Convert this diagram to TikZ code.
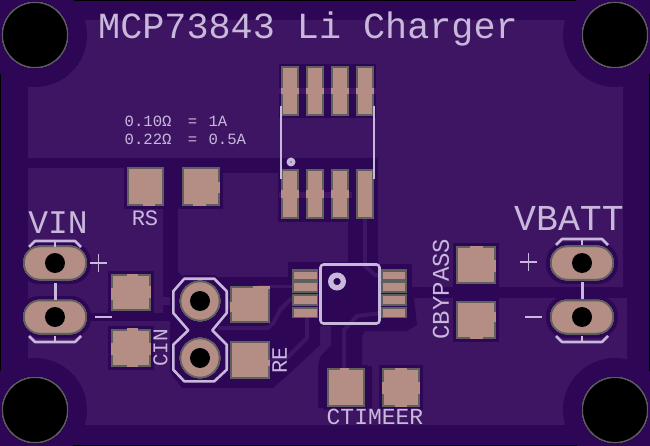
\documentclass[tikz,border=0pt]{standalone}
\usepackage{fontspec}
\setmainfont{Liberation Mono}
\definecolor{boardc}{HTML}{2E0656}
\definecolor{pour}{HTML}{3E1562}
\definecolor{silk}{HTML}{C8B8DC}
\definecolor{padc}{HTML}{B48D85}
\definecolor{edge}{HTML}{5F5F5F}
\tikzset{
  clear/.style={fill=boardc,draw=none},
  pourf/.style={fill=pour,draw=none},
  padf/.style={fill=padc,draw=edge,line width=1.5pt},
  gapf/.style={fill=padc,draw=none},
  tracel/.style={draw=pour,line width=4pt,line join=round},
  silkl/.style={draw=silk,line width=2.6pt,line join=round},
  silktext/.style={text=silk,inner sep=0pt,anchor=center},
}
\newcommand{\padbox}[4]{\draw[padf] (#1,#2) rectangle (#3,#4);}
\newcommand{\clearbox}[4]{\fill[clear] (#1-4,#2-4) rectangle (#3+4,#4+4);}
\newcommand{\gapbox}[4]{\fill[gapf] (#1,#2) rectangle (#3,#4);}
\newcommand{\ovalpad}[2]{%
  \draw[padf,rounded corners=16pt] (#1-31,#2-16.5) rectangle (#1+31,#2+16.5);
  \fill[black] (#1,#2) circle (10);}
\newcommand{\ovalclear}[2]{\fill[clear,rounded corners=20pt] (#1-36,#2-21) rectangle (#1+36,#2+21);}
\begin{document}
\begin{tikzpicture}[x=1pt,y=-1pt]
\useasboundingbox (0,0) rectangle (650,446);
\fill[fill=boardc] (0,0) rectangle (650,446);
\draw[black,line width=1pt] (0.5,0.5) rectangle (649.5,445.5);
% pours
\fill[pourf] (28,20) -- (623,20) -- (623,287) -- (412,287) -- (412,264) -- (378,264) -- (378,158) -- (28,158) -- cycle;
\fill[pourf] (222,173) -- (278,173) -- (278,222) -- (348,222) -- (348,262) -- (288,262) -- (288,277) -- (183,277) -- (178,272) -- (178,208) -- (222,208) -- cycle;
\fill[pourf] (28,168) -- (163,168) -- (163,297) -- (178,297) -- (178,305) -- (163,305) -- (163,313) -- (28,313) -- cycle;
\fill[pourf] (28,320) -- (331,320) -- (331,326) -- (412,326) -- (412,298) -- (627,298) -- (627,425) -- (28,425) -- cycle;
% hole clearances
\foreach \hx/\hy in {35/35,615/35,35/410,615/410} \fill[clear] (\hx,\hy) circle (52);
% dark regions
\fill[clear] (85,313) rectangle (172,321);
\fill[clear] (172,313) -- (172,375) -- (182,388) -- (273,388) -- (290,373) -- (320,345) -- (320,320) -- (172,320) -- cycle;
\fill[clear] (331,324) -- (331,345) -- (320,357) -- (318,367) -- (318,408) -- (372,408) -- (372,366) -- (362,366) -- (362,336) -- (365,331) -- (407,331) -- (417,325) -- (414,298) -- (425,298) -- (425,287) -- (408,287) -- (408,324) -- cycle;
\fill[clear] (406,288) rectangle (623,298);
\fill[clear] (348,158) rectangle (378,264);
% pad clearances
\clearbox{128}{168}{163}{205}
\clearbox{183}{168}{219}{205}
\clearbox{112}{275}{150}{310}
\clearbox{112}{330}{150}{366}
\clearbox{231}{287}{269}{322}
\clearbox{231}{342}{269}{378}
\clearbox{457}{247}{495}{283}
\clearbox{457}{302}{495}{338}
\clearbox{328}{369}{364}{406}
\clearbox{383}{369}{419}{406}
\fill[clear] (279,64) rectangle (376,118);
\fill[clear] (279,167) rectangle (376,221);
\fill[clear] (288,264) rectangle (411,326);
\ovalclear{55}{263}\ovalclear{55}{317}\ovalclear{582}{263}\ovalclear{582}{317}
\fill[clear] (184,275) -- (215,275) -- (231,290) -- (231,372) -- (215,385) -- (184,385) -- (170,372) -- (170,290) -- cycle;
% traces
\fill[pourf] (279,88) rectangle (376,94);
\fill[pourf] (279,192) rectangle (352,198);
\draw[tracel] (365,218) -- (365,266) -- (375,275) -- (381,275);
\draw[tracel,line width=3pt] (292,286) -- (258,286);
\draw[tracel] (292,298) -- (280,310) -- (274,322) -- (268,328) -- (218,328);
\draw[tracel] (307,318) -- (307,338) -- (287,358) -- (269,360);
\draw[tracel] (344,369) -- (344,330) -- (357,316) -- (381,313);
\fill[pourf] (226,301) rectangle (232,309);
% smt pads
\padbox{128}{168}{163}{205}
\padbox{183}{168}{219}{205}
\padbox{112}{275}{150}{310}
\padbox{112}{330}{150}{366}
\padbox{231}{287}{269}{322}
\padbox{231}{342}{269}{378}
\padbox{457}{247}{495}{283}
\padbox{457}{302}{495}{338}
\padbox{328}{369}{364}{406}
\padbox{383}{369}{419}{406}
\gapbox{143}{203}{155}{206}
\gapbox{193}{203}{206}{206}
\gapbox{217}{182}{220}{193}
\gapbox{127}{274}{138}{277}
\gapbox{111}{288}{114}{300}
\gapbox{148}{286}{151}{298}
\gapbox{127}{328}{138}{332}
\gapbox{127}{364}{138}{367}
\gapbox{111}{343}{114}{355}
\gapbox{148}{343}{151}{355}
\gapbox{253}{286}{270}{289}
\gapbox{230}{302}{233}{312}
\gapbox{267}{360}{270}{366}
\gapbox{470}{246}{483}{249}
\gapbox{493}{260}{496}{272}
\gapbox{470}{336}{483}{339}
\gapbox{493}{312}{496}{322}
\gapbox{340}{368}{349}{371}
\gapbox{395}{368}{407}{371}
\gapbox{395}{404}{407}{407}
\gapbox{382}{382}{385}{394}
\gapbox{417}{382}{420}{394}
% SOIC
\foreach \px in {282,307,332,357} {
  \padbox{\px}{67}{\px+16}{115}
  \padbox{\px}{170}{\px+16}{218}
}
\foreach \px in {282,307,332,357} \gapbox{\px-1}{88}{\px+17}{94}
\foreach \px in {282,307,332} \gapbox{\px-1}{190}{\px+17}{198}
% QFN
\foreach \qx/\qa/\qb in {292/294/317,381/383/405} {
  \fill[edge] (\qx,269) rectangle (\qx+26,318);
  \fill[clear] (\qx,292.6) rectangle (\qx+26,294.4);
  \fill[clear] (\qx,305.6) rectangle (\qx+26,307);
  \fill[padc] (\qa,271.5) rectangle (\qb,279);
  \fill[padc] (\qa,283) rectangle (\qb,291);
  \fill[padc] (\qa,296) rectangle (\qb,304);
  \fill[padc] (\qa,309) rectangle (\qb,316.5);
}
% through pads
\ovalpad{55}{263}\ovalpad{55}{317}\ovalpad{582}{263}\ovalpad{582}{317}
\foreach \vy in {301,358} {
  \fill[padc] (200,\vy) circle (19.5);
  \draw[edge,line width=1.5pt] (200,\vy) circle (19.5);
  \fill[black] (200,\vy) circle (10);
}
% mounting holes
\foreach \hx/\hy in {35/35,615/35,35/410,615/410} \draw[edge,line width=1pt,fill=black] (\hx,\hy) circle (32.5);
% silk
\draw[silkl] (281,106) -- (281,179);
\draw[silkl] (374,106) -- (374,179);
\fill[silk] (291,162) circle (4.5);
\fill[edge] (291,162) circle (0.8);
\draw[silkl,rounded corners=3pt] (320.5,264.5) rectangle (379.5,323.5);
\draw[silk,line width=5.3pt] (337,281.5) circle (6.3);
\draw[silkl] (184.3,278.7) -- (214.3,278.7) -- (226.7,291.3) -- (226.7,313) -- (212.3,330.3) -- (226.7,344.7) -- (226.7,369.7) -- (214.3,381.3) -- (184.3,381.3) -- (173.3,369.7) -- (173.3,344.7) -- (188.3,330.3) -- (173.3,313) -- (173.3,291.3) -- cycle;
\draw[silkl] (29,247) -- (35,241) -- (75,241) -- (81,247);
\draw[silkl] (55,241) -- (55,247);
\draw[silkl] (29,336) -- (35,342) -- (75,342) -- (81,336);
\draw[silkl] (55,336) -- (55,342);
\draw[silkl,line width=3pt] (55,283) -- (55,300);
\draw[silkl] (556,245) -- (562,239) -- (602,239) -- (608,245);
\draw[silkl] (582,239) -- (582,245);
\draw[silkl] (556,336) -- (562,342) -- (602,342) -- (608,336);
\draw[silkl] (582,336) -- (582,342);
\draw[silkl,line width=3pt] (582,282) -- (582,299);
\draw[silk,line width=1.6pt] (90,263) -- (107,263) (98.5,254.5) -- (98.5,271.5);
\draw[silk,line width=1.6pt] (95,317) -- (112,317);
\draw[silk,line width=1.6pt] (520,262) -- (537,262) (528.5,253.5) -- (528.5,270.5);
\draw[silk,line width=1.6pt] (525,317) -- (542,317);
% texts
\node[silktext,font=\fontsize{36.8pt}{36.8pt}\selectfont] (title) at (308,29) {MCP73843 Li Charger};
\node[silktext,font=\fontsize{15.6pt}{15.6pt}\selectfont,anchor=west] (l1) at (124.5,121) {0.10Ω\hspace{7pt} = \hspace{2pt}1A};
\node[silktext,font=\fontsize{15.6pt}{15.6pt}\selectfont,anchor=west] (l2) at (124.5,139) {0.22Ω\hspace{7pt} = \hspace{2pt}0.5A};
\node[silktext,font=\fontsize{33pt}{33pt}\selectfont] (vin) at (58,223) {VIN};
\node[silktext,font=\fontsize{36.5pt}{36.5pt}\selectfont] (vbatt) at (569,218) {VBATT};
\node[silktext,font=\fontsize{22pt}{22pt}\selectfont] (rs) at (145,218) {RS};
\node[silktext,font=\fontsize{21pt}{21pt}\selectfont,rotate=90] (cin) at (160.5,348) {CIN};
\node[silktext,font=\fontsize{22pt}{22pt}\selectfont,rotate=90] (re) at (279.5,360) {RE};
\node[silktext,font=\fontsize{24pt}{24pt}\selectfont,rotate=90] (cb) at (441,289) {CBYPASS};
\node[silktext,font=\fontsize{23pt}{23pt}\selectfont] (ct) at (375,417) {CTIMEER};
\end{tikzpicture}
\end{document}
